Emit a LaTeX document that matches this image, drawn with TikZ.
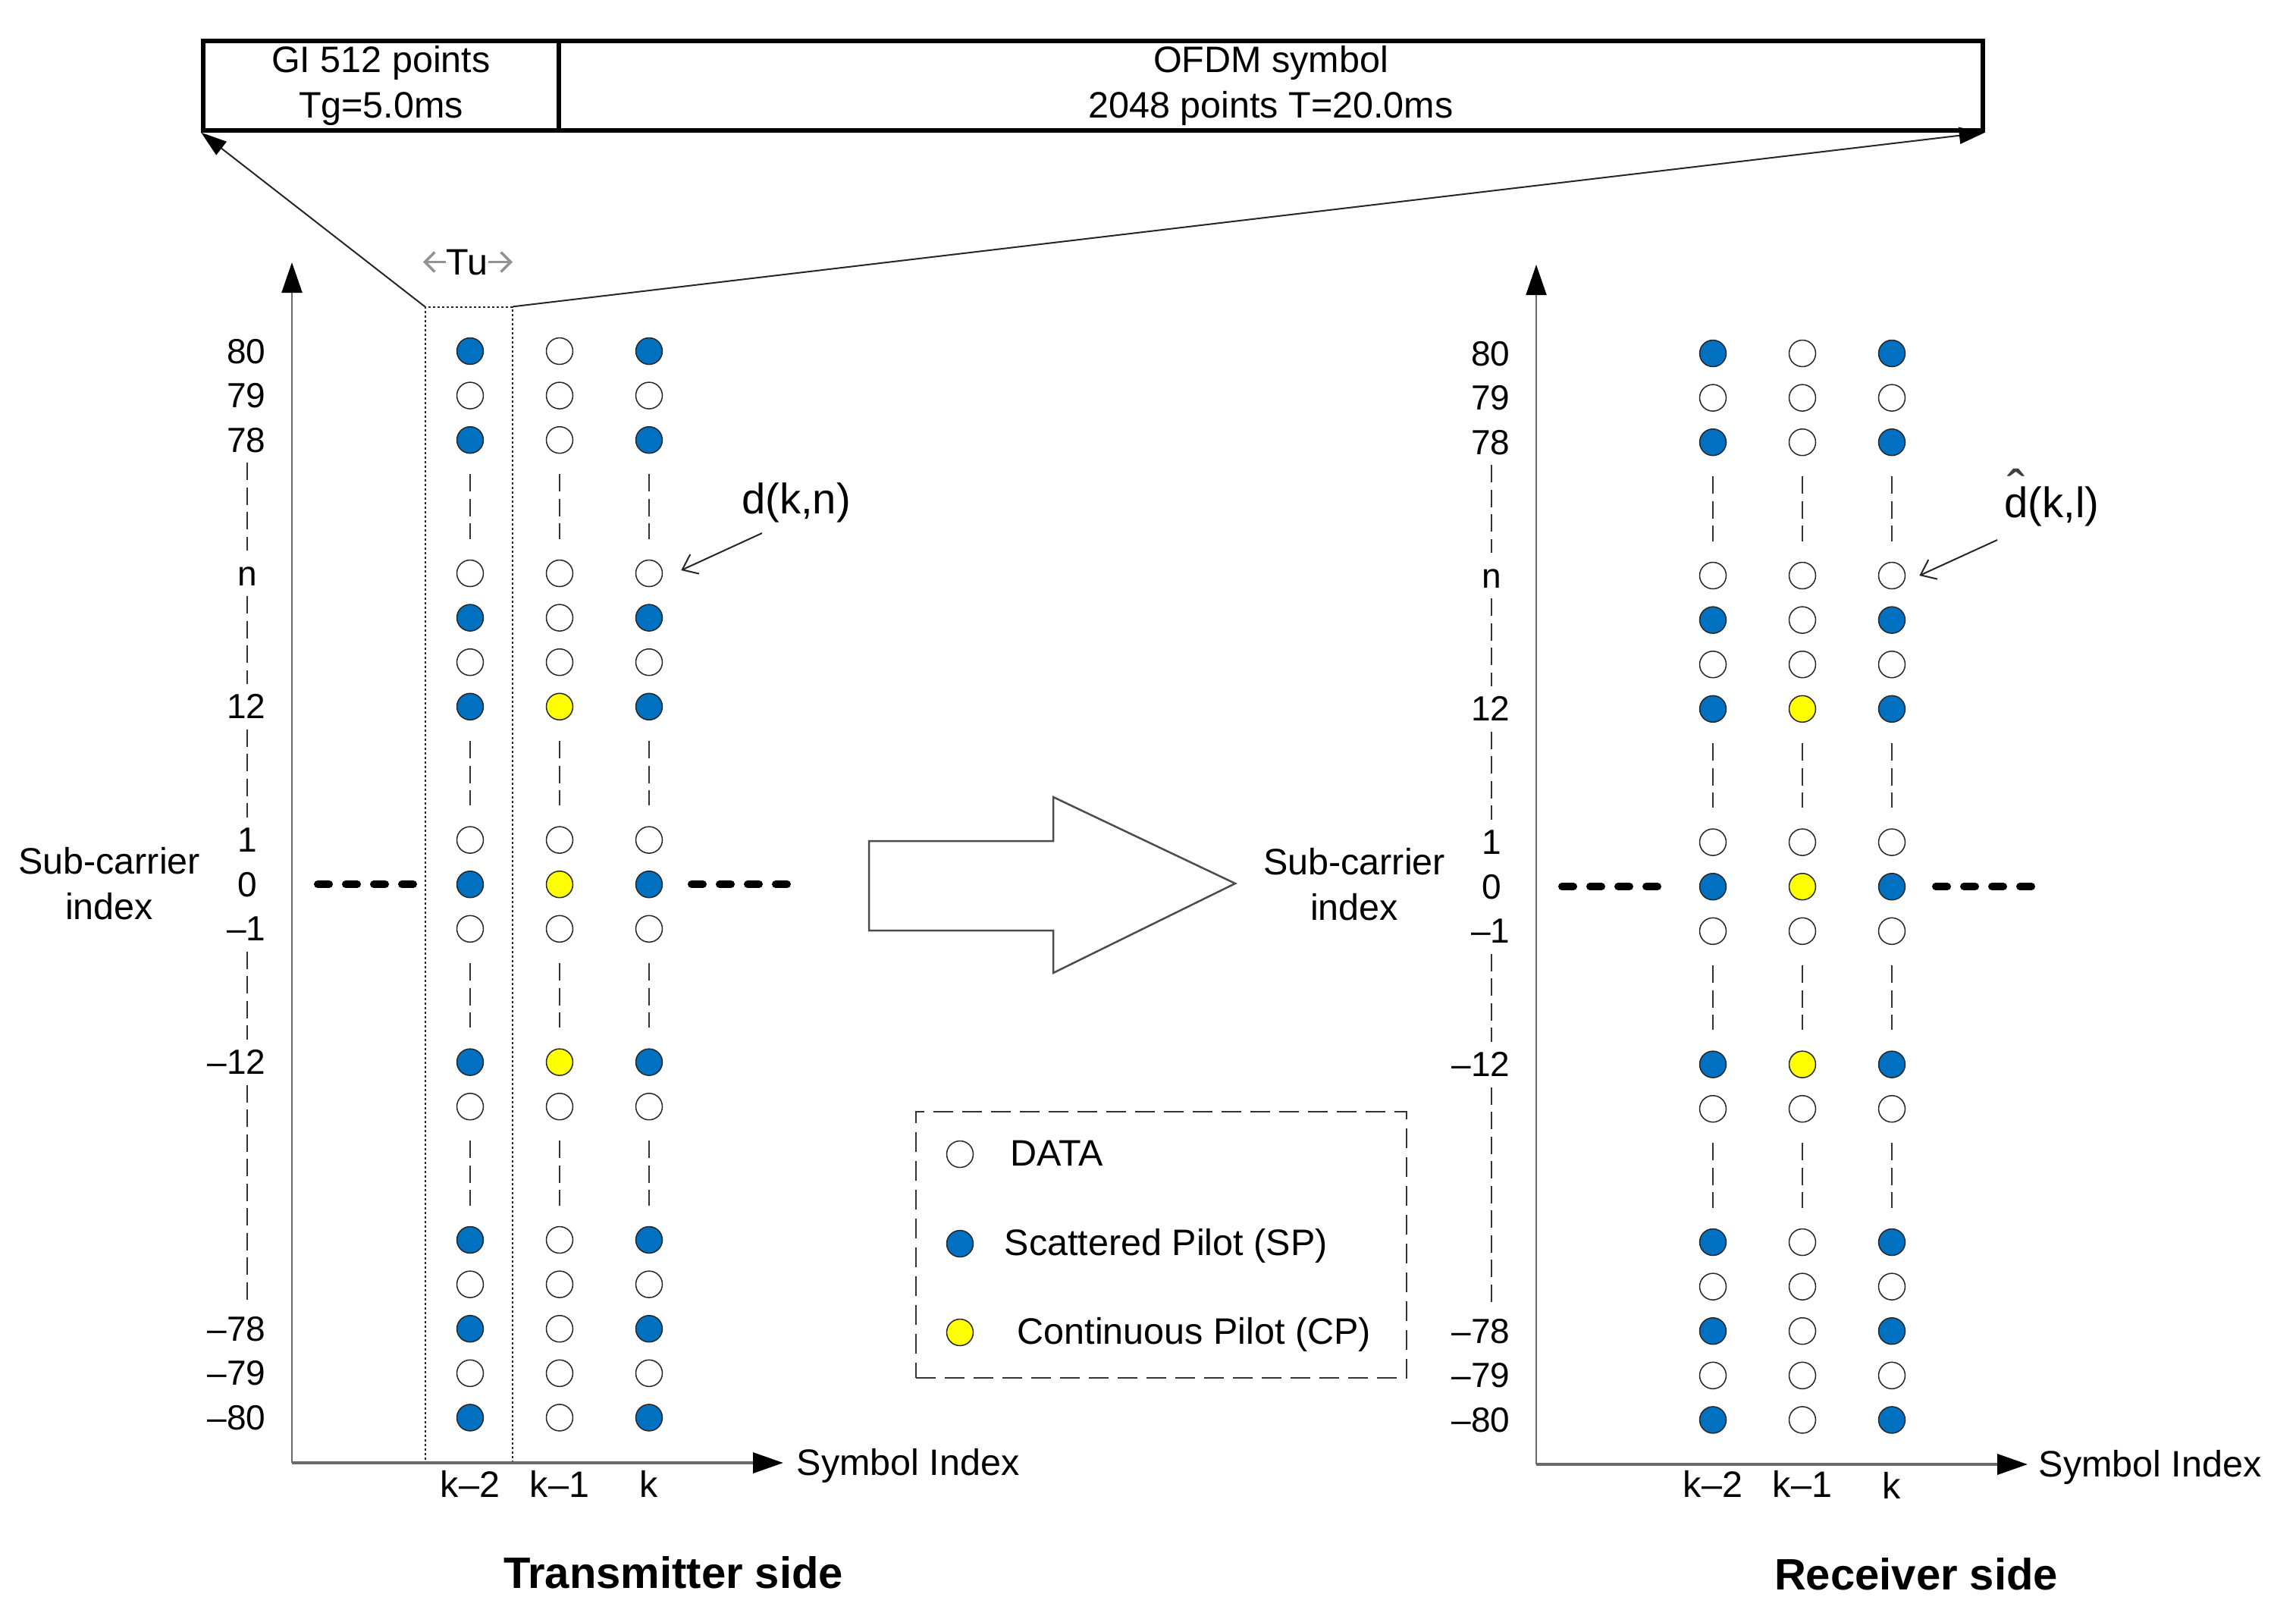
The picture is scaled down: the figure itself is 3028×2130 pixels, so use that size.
\documentclass[tikz,border=0pt]{standalone}
\usepackage{fontspec}
\setmainfont{Liberation Sans}
\usetikzlibrary{arrows.meta}
\definecolor{spblue}{RGB}{0,112,192}
\definecolor{cpyellow}{RGB}{255,255,0}
\definecolor{axgray}{RGB}{105,105,105}
\begin{document}
\begin{tikzpicture}[x=0.1mm,y=-0.1mm,
  txt/.style={font=\fontsize{13.8pt}{16.9pt}\selectfont, inner sep=0pt},
  lab/.style={font=\fontsize{13.1pt}{16pt}\selectfont, inner sep=0pt},
  ttl/.style={font=\bfseries\fontsize{16.5pt}{20pt}\selectfont, inner sep=0pt},
  big/.style={font=\fontsize{16pt}{19pt}\selectfont, inner sep=0pt},
  topbox/.style={draw=black, line width=0.55mm, minimum height=11.8mm, align=center, inner sep=0pt, font=\fontsize{13.8pt}{17pt}\selectfont},
  dot/.style={circle, draw=black!85, line width=0.15mm, minimum size=3.5mm, inner sep=0pt},
  coldash/.style={draw=black!80, line width=0.2mm, dash pattern=on 2.3mm off 0.95mm},
  hdots/.style={draw=black, line width=1mm, line cap=round, dash pattern=on 1.5mm off 2.2mm},
  yax/.style={draw=axgray, line width=0.2mm, -{Triangle[length=4mm,width=2.7mm,color=black]}},
  xax/.style={draw=axgray, line width=0.35mm, -{Triangle[length=4mm,width=2.7mm,color=black]}},
  conn/.style={draw=black!85, line width=0.2mm, -{Triangle[length=3.4mm,width=2.2mm,color=black]}},
  ptr/.style={draw=black!85, line width=0.2mm, -{Straight Barb[length=1.8mm,width=2.8mm]}},
  tuarr/.style={draw=gray!85, line width=0.35mm, -{Straight Barb[length=1.3mm,width=2.6mm]}},
  bigarrow/.style={draw=black!70, line width=0.25mm, fill=white}
]
\useasboundingbox (0,0) rectangle (3028,2130);

% ---- top frame
\node[topbox, minimum width=46.9mm] (GI) at (502.5,113) {GI 512 points\\Tg=5.0ms};
\node[topbox, minimum width=187.8mm] (OFDM) at (1676,113) {OFDM symbol\\2048 points T=20.0ms};

% ---- Tu box
\node[draw=black!85, line width=0.15mm, dash pattern=on 0.3mm off 0.3mm,
      minimum width=11.5mm, minimum height=152.3mm, inner sep=0pt] (Tu) at (618.5,1166.5) {};
\node[txt, anchor=base] (TuLbl) at (616,362) {Tu};
\draw[tuarr] (TuLbl.west) -- ++(-3.0mm,0);
\draw[tuarr] (TuLbl.east) -- ++(3.2mm,0);
\draw[conn] (Tu.north west) -- (GI.south west);
\draw[conn] (Tu.north east) -- (OFDM.south east);

% ---- axes
\coordinate (OL) at (385,1929); \coordinate (YL) at (385,346); \coordinate (XL) at (1033,1929);
\coordinate (OR) at (2026,1931); \coordinate (YR) at (2026,349); \coordinate (XR) at (2674,1931);
\draw[yax] (OL) -- (YL);
\draw[xax] (OL) -- (XL);
\draw[yax] (OR) -- (YR);
\draw[xax] (OR) -- (XR);

% ---- dots
\foreach \i/\a/\b in {0/spblue/white, 1/white/white, 2/spblue/white, 5/white/white,
  6/spblue/white, 7/white/white, 8/spblue/cpyellow, 11/white/white, 12/spblue/cpyellow,
  13/white/white, 16/spblue/cpyellow, 17/white/white, 20/spblue/white, 21/white/white,
  22/spblue/white, 23/white/white, 24/spblue/white} {
  \pgfmathsetmacro{\yy}{463+58.6*\i}
  \pgfmathsetmacro{\yr}{466+58.6*\i}
  \node[dot, fill=\a] (L1-\i) at (620,\yy) {};
  \node[dot, fill=\b] (L2-\i) at (738,\yy) {};
  \node[dot, fill=\a] (L3-\i) at (856,\yy) {};
  \node[dot, fill=\a] (R1-\i) at (2259,\yr) {};
  \node[dot, fill=\b] (R2-\i) at (2377,\yr) {};
  \node[dot, fill=\a] (R3-\i) at (2495,\yr) {};
  \coordinate (LA-\i) at (326,\yy);
  \coordinate (RA-\i) at (1967,\yr);
}

% ---- column dashes
\foreach \s in {L,R} {
  \foreach \c in {1,2,3} {
    \foreach \p/\q in {2/5,8/11,13/16,17/20} {
      \draw[coldash, shorten <=2.7mm, shorten >=2.7mm] (\s\c-\p) -- (\s\c-\q);
    }
  }
  \foreach \p/\q in {2/5,5/8,8/11,13/16,16/22} {
    \draw[coldash, shorten <=3mm, shorten >=3mm] (\s A-\p) -- (\s A-\q);
  }
}

% ---- axis labels
\foreach \i/\t in {0/80,1/79,2/78,8/12,13/–1,16/–12,22/–78,23/–79,24/–80} {
  \node[lab, anchor=base east] (LL-\i) at (351,{479+58.6*\i}) {\t};
  \node[lab, anchor=base east] (RL-\i) at (1992,{482+58.6*\i}) {\t};
}
\foreach \i/\t in {5/n,11/1,12/0} {
  \node[lab, anchor=base] (LL-\i) at (326,{479+58.6*\i}) {\t};
  \node[lab, anchor=base] (RL-\i) at (1967,{482+58.6*\i}) {\t};
}

% ---- horizontal dotted marks at row 0
\draw[hdots] (419,1166) -- (545,1166);
\draw[hdots] (912,1166) -- (1038,1166);
\draw[hdots] (2060,1169) -- (2186,1169);
\draw[hdots] (2553,1169) -- (2679,1169);

% ---- sub-carrier index labels
\node[txt, align=center] (SCL) at (144,1165) {Sub-carrier\\index};
\node[txt, align=center] (SCR) at (1786,1166) {Sub-carrier\\index};

% ---- big hollow arrow
\draw[bigarrow] (1146,1109) -- (1389,1109) -- (1389,1051) -- (1629,1165)
  -- (1389,1283) -- (1389,1227) -- (1146,1227) -- cycle;

% ---- symbol index
\node[txt, anchor=base west] (SymL) at (1050,1945) {Symbol Index};
\node[txt, anchor=base west] (SymR) at (2688,1947) {Symbol Index};
\node[txt, anchor=base] (kL1) at (620,1974) {k–2};
\node[txt, anchor=base] (kL2) at (738,1974) {k–1};
\node[txt, anchor=base] (kL3) at (856,1974) {k};
\node[txt, anchor=base] (kR1) at (2259,1974) {k–2};
\node[txt, anchor=base] (kR2) at (2377,1974) {k–1};
\node[txt, anchor=base] (kR3) at (2495,1976) {k};

% ---- titles
\node[ttl, anchor=base] (TxT) at (888,2094) {Transmitter side};
\node[ttl, anchor=base] (RxT) at (2527,2096) {Receiver side};

% ---- legend
\node[draw=black!80, line width=0.2mm, dash pattern=on 2.6mm off 1.2mm,
      minimum width=64.7mm, minimum height=35.1mm, inner sep=0pt] (Leg) at (1531.5,1641.5) {};
\node[dot, fill=white] (LgD) at (1266,1522) {};
\node[dot, fill=spblue] (LgS) at (1266,1640) {};
\node[dot, fill=cpyellow] (LgC) at (1266,1757) {};
\node[txt, anchor=base west] (LgDt) at (1332,1537) {DATA};
\node[txt, anchor=base west] (LgSt) at (1324,1655) {Scattered Pilot (SP)};
\node[txt, anchor=base west] (LgCt) at (1341,1772) {Continuous Pilot (CP)};

% ---- pointer labels
\node[big, anchor=base] (dkn) at (1050,677) {d(k,n)};
\coordinate (dknFrom) at (1005,703);
\draw[ptr] (dknFrom) -- ([shift={(2.4mm,0.4mm)}]L3-5.east);
\node[big, anchor=base] (dkl) at (2706,682) {\makebox[0pt][l]{\makebox[0.556em][c]{\raisebox{3.5pt}{\fontsize{20pt}{20pt}\selectfont\color{black!75}ˆ}}}d(k,l)};
\coordinate (dklFrom) at (2634,712);
\draw[ptr] (dklFrom) -- ([xshift=1.8mm]R3-5.east);
\end{tikzpicture}
\end{document}
